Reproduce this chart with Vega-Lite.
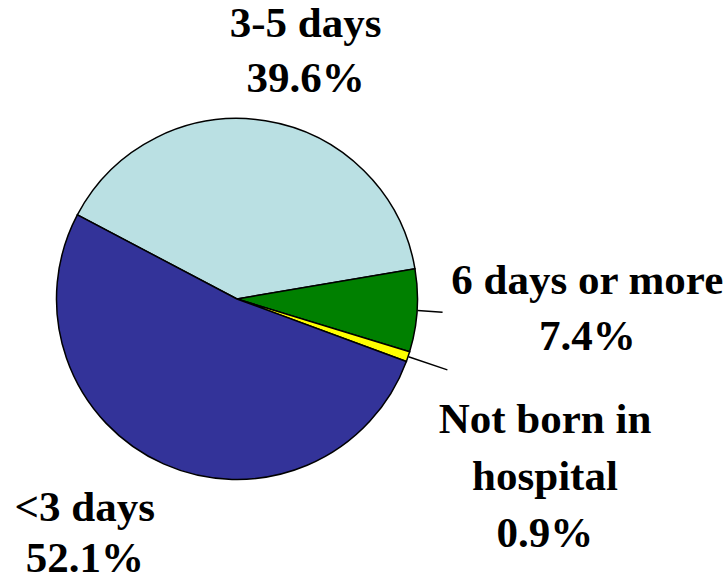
{
  "$schema": "https://vega.github.io/schema/vega-lite/v6.json",
  "width": 474,
  "height": 566,
  "autosize": {"type": "none"},
  "padding": {"left": 0, "top": 16, "right": 253, "bottom": 0},
  "background": "white",
  "view": {"stroke": null},
  "data": {
    "values": [
      {"category": "3-5 days", "percent": 39.6, "order": 1, "label": "3-5 days|39.6%"},
      {"category": "6 days or more", "percent": 7.4, "order": 2, "label": "6 days or more|7.4%"},
      {"category": "Not born in hospital", "percent": 0.9, "order": 3, "label": "Not born in|hospital|0.9%"},
      {"category": "<3 days", "percent": 52.1, "order": 4, "label": "<3 days|52.1%"}
    ]
  },
  "encoding": {
    "theta": {"field": "percent", "type": "quantitative", "stack": true, "scale": {"range": [5.1976, 11.4808]}},
    "order": {"field": "order", "type": "quantitative"},
    "detail": {"field": "category", "type": "nominal"}
  },
  "layer": [
    {
      "mark": {"type": "arc", "radius": 180.5, "stroke": "black", "strokeWidth": 1.5},
      "encoding": {
        "color": {
          "field": "category",
          "type": "nominal",
          "scale": {
            "domain": ["3-5 days", "6 days or more", "Not born in hospital", "<3 days"],
            "range": ["#BAE0E3", "#008000", "#FFFF00", "#333399"]
          },
          "legend": null
        }
      }
    },
    {
      "mark": {"type": "arc", "radius": 206, "radius2": 181, "padAngle": 3, "fillOpacity": 0, "stroke": "black", "strokeWidth": 1.5},
      "encoding": {
        "strokeOpacity": {"condition": {"test": "datum.category === '6 days or more'", "value": 1}, "value": 0}
      }
    },
    {
      "mark": {"type": "arc", "radius": 222, "radius2": 181, "padAngle": 3, "fillOpacity": 0, "stroke": "black", "strokeWidth": 1.5},
      "encoding": {
        "strokeOpacity": {"condition": {"test": "datum.category === 'Not born in hospital'", "value": 1}, "value": 0}
      }
    },
    {
      "mark": {"type": "text", "radius": 251, "dx": 29, "dy": -27, "font": "Liberation Serif", "fontWeight": "bold", "fontSize": 43, "lineBreak": "|", "lineHeight": 55, "align": "center", "baseline": "middle", "fill": "black"},
      "encoding": {
        "text": {"condition": {"test": "datum.category === '3-5 days'", "field": "label"}, "value": ""}
      }
    },
    {
      "mark": {"type": "text", "radius": 349, "dx": 2, "dy": -40, "font": "Liberation Serif", "fontWeight": "bold", "fontSize": 43, "lineBreak": "|", "lineHeight": 56, "align": "center", "baseline": "middle", "fill": "black"},
      "encoding": {
        "text": {"condition": {"test": "datum.category === '6 days or more'", "field": "label"}, "value": ""}
      }
    },
    {
      "mark": {"type": "text", "radius": 325, "dx": 0, "dy": 17, "font": "Liberation Serif", "fontWeight": "bold", "fontSize": 43, "lineBreak": "|", "lineHeight": 57, "align": "center", "baseline": "middle", "fill": "black"},
      "encoding": {
        "text": {"condition": {"test": "datum.category === 'Not born in hospital'", "field": "label"}, "value": ""}
      }
    },
    {
      "mark": {"type": "text", "radius": 261, "dx": -46, "dy": -29, "font": "Liberation Serif", "fontWeight": "bold", "fontSize": 43, "lineBreak": "|", "lineHeight": 51, "align": "center", "baseline": "middle", "fill": "black"},
      "encoding": {
        "text": {"condition": {"test": "datum.category === '<3 days'", "field": "label"}, "value": ""}
      }
    }
  ]
}
